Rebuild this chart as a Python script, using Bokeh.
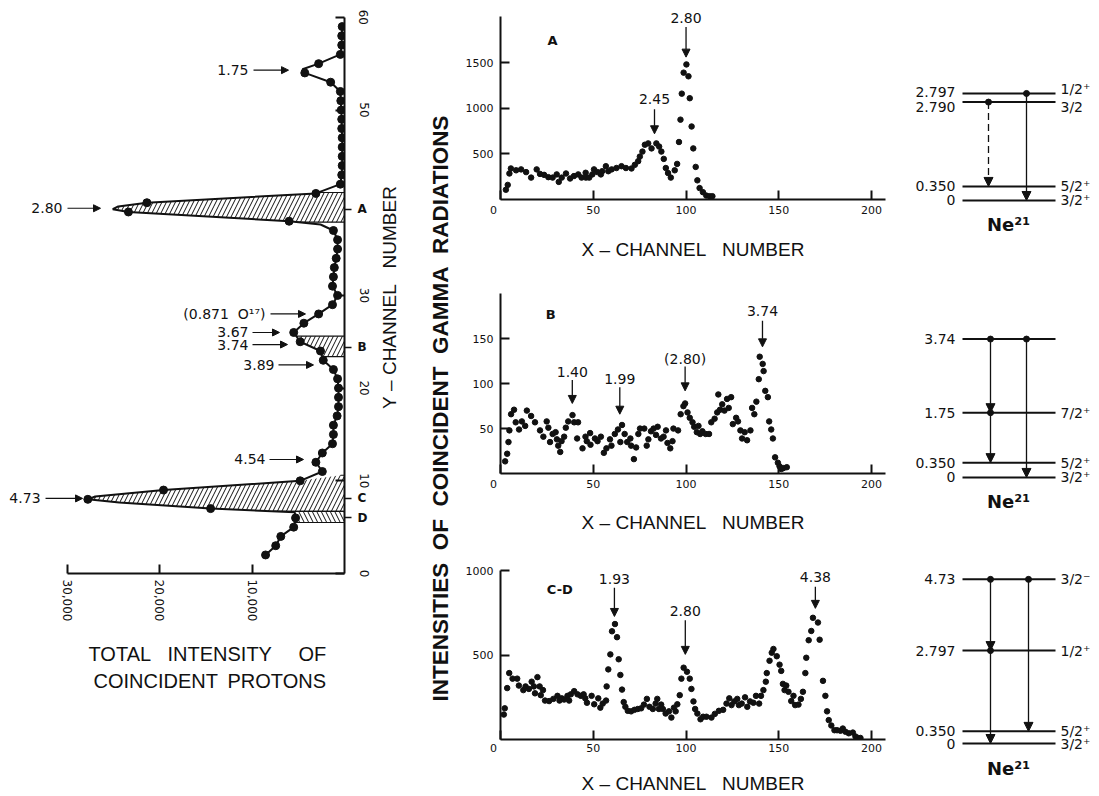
import math
from bokeh.plotting import figure
from bokeh.models import Range1d, FixedTicker, Arrow, NormalHead, NumeralTickFormatter, LinearAxis, Spacer
from bokeh.layouts import row, column
from bokeh.embed import file_html
from bokeh.resources import INLINE
from bokeh.core.properties import value

FONT = "DejaVu Sans"
TFONT = "Liberation Sans"
INK = "#111111"
SP = "\u00a0"

# ---------------- left panel: total intensity of coincident protons ----------------
prot_channel = list(range(2, 60))
prot_intensity = [8550, 7450, 6900, 5500, 5300, 14500, 27800, 19600, 4800, 2400,
                  3100, 2400, 1300, 1200, 1200, 800, 650, 650, 650, 750,
                  1200, 2300, 2600, 4800, 5500, 4400, 2800, 1300, 750, 1300,
                  1200, 1100, 900, 750, 750, 1200, 6000, 23400, 21400, 3100,
                  450, 300, 250, 250, 250, 250, 300, 300, 350, 400,
                  450, 1500, 4300, 2800, 450, 300, 300, 250]
# extra points of the hand-drawn peak curves
shape_channel = [6.6, 7.65, 8.3, 37.65, 39.3, 39.6, 54.4]
shape_intensity = [5400, 24400, 27000, 2600, 25100, 24500, 4550]

# hatched gates A, B, C, D
hatch_A_ch = [37.9, 38.0, 39.0, 39.3, 39.6, 40.0, 41.0, 41.1]
hatch_A_I = [5200, 6000, 23400, 25100, 24500, 21400, 3100, 2850]
hatch_B_ch = [23.4, 24.0, 25.0, 25.6]
hatch_B_I = [2420, 2600, 4800, 5220]
hatch_C_ch = [6.7, 7.0, 7.65, 8.0, 8.3, 9.0, 10.0, 10.6]
hatch_C_I = [7700, 14500, 24400, 27800, 27000, 19600, 4800, 430]
hatch_D_ch = [5.5, 6.0, 6.6, 6.7]
hatch_D_I = [5400, 5300, 5400, 7700]
gate_names = ["A", "B", "C", "D"]
gate_channel = [39.3, 24.4, 8.1, 6.0]
y_ticks = [0, 10, 20, 30, 50, 60]
x_ticks = [10000, 20000, 30000]

prot_peak_text = ["1.75", "2.80", "(0.871" + SP + SP + "O\u00b9\u2077)", "3.67", "3.74", "3.89", "4.54", "4.73"]
prot_peak_ch = [54.3, 39.4, 28.0, 26.0, 24.7, 22.5, 12.3, 8.1]

# ---------------- middle panels: gamma spectra ----------------
A_ch = [2.9, 3.9, 4.8, 5.6, 8.4, 11.1, 13.8, 16.5, 19.5, 21.3, 23.5, 25.8, 28.1, 30.3, 31.4,
        33.0, 35.3, 37.5, 39.6, 41.9, 43.7, 45.9, 46.0, 47.8, 49.5, 50.4, 52.2, 54.1, 54.8,
        56.8, 58.1, 59.9, 62.5, 65.2, 67.6, 70.6, 72.4, 74.2, 75.1, 76.5, 77.8, 79.6, 81.4,
        84.0, 85.5, 86.7, 88.0, 89.1, 90.3, 91.8, 93.9, 95.2, 96.2, 97.0, 97.7, 98.7, 100.2,
        101.3, 102.0, 103.0, 103.9, 105.2, 106.1, 107.3, 109.1, 110.9, 112.7, 114.2]
A_counts = [107, 160, 285, 340, 320, 330, 300, 240, 330, 280, 270, 245, 240, 275, 193,
            240, 285, 230, 257, 275, 240, 293, 240, 240, 275, 330, 300, 275, 310,
            365, 310, 330, 345, 365, 345, 340, 380, 420, 470, 525, 600, 615, 560,
            615, 580, 525, 445, 345, 290, 240, 320, 390, 630, 875, 1160, 1390, 1480,
            1350, 1110, 800, 560, 357, 210, 125, 80, 43, 36, 36]

B_ch = [2.5, 3.6, 4.3, 4.8, 5.7, 7.3, 8.2, 10.0, 11.5, 13.3,
        14.2, 16.5, 18.6, 21.3, 23.1, 24.9, 25.8, 26.7, 28.1, 29.7,
        30.4, 31.1, 32.2, 32.9, 34.3, 35.2, 36.5, 38.8, 39.7, 41.3,
        41.8, 44.2, 45.8, 46.5, 48.3, 48.5, 50.9, 52.3, 54.1, 55.7,
        57.1, 59.0, 59.8, 61.6, 63.3, 64.6, 65.5, 66.9, 68.3, 70.0,
        70.4, 71.9, 73.1, 74.3, 75.2, 77.5, 78.8, 79.7, 81.1, 82.5,
        83.8, 84.7, 86.5, 87.9, 89.2, 90.0, 91.5, 92.7, 93.2, 95.7,
        97.1, 98.6, 99.5, 100.8, 102.0, 103.5, 104.4, 105.8, 106.7, 107.6,
        108.8, 110.6, 112.4, 113.6, 115.4, 116.8, 117.4, 118.3, 119.5, 120.7,
        122.1, 123.0, 124.3, 125.2, 127.0, 128.0, 129.3, 130.2, 131.6, 132.9,
        134.7, 135.6, 136.8, 137.9, 139.2, 139.7, 141.3, 141.8, 142.7, 144.1,
        144.8, 145.9, 146.8, 148.0, 149.5, 150.4, 151.3, 152.5, 154.3]
B_counts = [13.5, 22, 35, 48, 66, 71, 57, 49, 58, 53,
            70, 64, 57, 48, 41, 58, 51, 35, 44, 46,
            38, 31, 24, 36, 41, 51, 58, 65, 57, 39,
            57, 28, 41, 36, 45, 32, 39, 36, 41, 23,
            28, 38, 31, 44, 49, 35, 54, 44, 35, 39,
            31, 16, 29, 44, 50, 50, 31, 38, 47, 50,
            43, 52, 39, 41, 48, 34, 28, 36, 50, 48,
            66, 75, 78, 68, 62, 57, 52, 46, 53, 44,
            47, 44, 44, 57, 61, 68, 88, 71, 77, 70,
            83, 73, 85, 55, 62, 58, 48, 39, 46, 37,
            48, 73, 66, 80, 105, 130, 122, 114, 92, 85,
            58, 49, 39, 18, 12, 8, 5, 6, 7]

C_ch = [1.8, 2.3, 3.6, 4.7, 6.5, 9.0, 9.9, 12.3, 13.5, 15.3,
        16.8, 18.0, 18.6, 19.9, 21.1, 21.7, 22.9, 24.0, 26.2, 28.5,
        30.7, 31.8, 33.0, 34.3, 36.1, 37.0, 37.9, 39.7, 41.5, 43.3,
        44.8, 45.7, 46.6, 49.1, 50.5, 52.7, 53.8, 55.1, 56.9, 57.2,
        58.1, 59.2, 60.1, 61.7, 62.8, 63.7, 64.6, 65.5, 66.4, 67.3,
        68.6, 70.4, 72.2, 74.0, 75.8, 77.3, 78.9, 80.3, 82.1, 83.6,
        84.5, 85.4, 86.6, 87.5, 89.0, 90.8, 92.1, 93.5, 94.4, 95.3,
        96.6, 97.5, 98.7, 100.5, 102.0, 102.9, 104.0, 104.9, 106.1, 107.8,
        109.2, 111.0, 113.7, 115.5, 117.7, 120.0, 121.8, 123.3, 124.5, 126.0,
        127.6, 128.5, 130.0, 131.8, 133.0, 134.5, 136.3, 137.7, 139.4, 140.4,
        141.7, 143.0, 143.5, 145.0, 146.2, 147.1, 148.9, 150.4, 151.3, 152.2,
        153.1, 154.0, 155.2, 156.7, 157.9, 158.8, 160.6, 161.9, 163.0, 164.3,
        164.8, 166.1, 167.5, 168.4, 171.1, 172.0, 173.8, 175.1, 176.0, 176.9,
        178.3, 180.0, 181.4, 183.2, 184.5, 185.9, 187.7, 189.9, 191.3, 192.8,
        194.0]
C_counts = [148, 185, 305, 394, 361, 361, 320, 293, 315, 300,
            343, 315, 274, 370, 315, 263, 293, 231, 228, 241,
            259, 231, 244, 237, 259, 231, 268, 287, 268, 259,
            268, 244, 218, 259, 209, 244, 189, 213, 231, 315,
            416, 505, 642, 685, 607, 476, 383, 296, 222, 194,
            170, 167, 176, 181, 185, 207, 241, 194, 181, 213,
            241, 181, 207, 181, 154, 167, 130, 189, 167, 209,
            263, 361, 426, 402, 361, 300, 226, 181, 154, 120,
            135, 135, 130, 152, 170, 176, 213, 244, 204, 226,
            241, 204, 213, 250, 194, 226, 218, 259, 213, 259,
            293, 343, 394, 467, 515, 537, 494, 444, 407, 330,
            293, 320, 283, 228, 259, 204, 207, 241, 283, 394,
            485, 589, 644, 722, 694, 592, 348, 259, 167, 115,
            83, 55, 55, 52, 65, 46, 37, 41, 18, 9,
            9]

A_peak_text = ["2.45", "2.80"]
A_peak_ch = [83, 100]
B_peak_text = ["1.40", "1.99", "(2.80)", "3.74"]
B_peak_ch = [38.7, 64.3, 99.5, 141.2]
C_peak_text = ["1.93", "2.80", "4.38"]
C_peak_ch = [61.4, 99.6, 169.7]
gamma_x_ticks = [0, 50, 100, 150, 200]

# ---------------- right: Ne21 level schemes ----------------
lvA_E = [2.797, 2.790, 0.350, 0.0]
lvA_left = ["2.797", "2.790", "0.350", "0"]
lvA_right = ["1/2\u207a", "3/2", "5/2\u207a", "3/2\u207a"]
lvA_trans = [(2.790, 0.350), (2.797, 0.0)]
lvB_E = [3.74, 1.75, 0.350, 0.0]
lvB_left = ["3.74", "1.75", "0.350", "0"]
lvB_right = ["", "7/2\u207a", "5/2\u207a", "3/2\u207a"]
lvB_trans = [(3.74, 1.75), (1.75, 0.350), (3.74, 0.0)]
lvC_E = [4.73, 2.797, 0.350, 0.0]
lvC_left = ["4.73", "2.797", "0.350", "0"]
lvC_right = ["3/2\u207b", "1/2\u207a", "5/2\u207a", "3/2\u207a"]
lvC_trans = [(4.73, 2.797), (2.797, 0.0), (4.73, 0.350)]


def clean(f):
    f.grid.visible = False
    f.outline_line_color = None
    f.background_fill_color = "white"
    f.border_fill_color = "white"


def style_axis(ax, size="11px"):
    ax.axis_line_width = 2
    ax.axis_line_color = INK
    ax.major_tick_line_color = INK
    ax.major_tick_line_width = 2
    ax.major_tick_in = 9
    ax.major_tick_out = 0
    ax.minor_tick_line_color = None
    ax.major_label_text_font = FONT
    ax.major_label_text_font_size = size
    ax.major_label_text_color = INK
    ax.axis_label_text_font = TFONT
    ax.axis_label_text_font_style = "normal"
    ax.axis_label_text_color = INK


def head(size=8):
    return NormalHead(size=size, fill_color=INK, line_color=INK, line_width=1)


def text_fig(w, h, right=0):
    f = figure(width=w, height=h, x_range=Range1d(0, w - right), y_range=Range1d(0, h),
               x_axis_location=None, y_axis_location=None, toolbar_location=None,
               output_backend="svg", min_border=0, min_border_right=right)
    clean(f)
    return f


# ================= left figure =================
pl = figure(width=366, height=625, x_range=Range1d(36390, 0), y_range=Range1d(0, 60.95),
            y_axis_location="right", toolbar_location=None, output_backend="svg",
            min_border_left=0, min_border_right=30, min_border_top=0, min_border_bottom=60)
clean(pl)
xa = pl.xaxis[0]
style_axis(xa, "12px")
xa.ticker = FixedTicker(ticks=x_ticks)
xa.formatter = NumeralTickFormatter(format="0,0")
xa.bounds = (0, 30000)
xa.major_label_orientation = "vertical"
xa.major_label_standoff = 6
ya = pl.yaxis[0]
style_axis(ya, "12px")
ya.ticker = FixedTicker(ticks=y_ticks, minor_ticks=gate_channel)
ya.minor_tick_line_color = INK
ya.minor_tick_line_width = 1.5
ya.minor_tick_in = 0
ya.minor_tick_out = 7
ya.bounds = (0, 60)
ya.major_label_orientation = "vertical"
ya.major_label_standoff = 8
# gate letters as a second (label-only) axis pulled back next to the first one
ga = LinearAxis(ticker=FixedTicker(ticks=gate_channel),
                major_label_overrides={c: g for c, g in zip(gate_channel, gate_names)})
ga.axis_line_color = None
ga.major_tick_line_color = None
ga.minor_tick_line_color = None
ga.major_tick_in = 0
ga.major_tick_out = 0
ga.major_label_standoff = -14
ga.major_label_text_font = FONT
ga.major_label_text_font_size = "12px"
ga.major_label_text_font_style = "bold"
ga.major_label_text_color = INK
pl.add_layout(ga, "right")

for hc, hi, pat in [(hatch_A_ch, hatch_A_I, "/"), (hatch_B_ch, hatch_B_I, "/"),
                    (hatch_C_ch, hatch_C_I, "/"), (hatch_D_ch, hatch_D_I, "\\")]:
    pl.harea(y=hc, x1=hi, x2=[0] * len(hc), fill_color=None, fill_alpha=0,
             hatch_pattern=pat, hatch_color=INK, hatch_scale=9, hatch_weight=1)
    pl.segment(x0=[hi[0], hi[-1]], y0=[hc[0], hc[-1]], x1=[0, 0], y1=[hc[0], hc[-1]],
               line_color=INK, line_width=1.2)

pts = sorted(zip(prot_channel + shape_channel, prot_intensity + shape_intensity))
pl.line([p[1] for p in pts], [p[0] for p in pts], line_color=INK, line_width=2)
pl.scatter(prot_intensity, prot_channel, size=8, color=INK)

txt_I = [10400, 30540, 8560, 10400, 10400, 7580, 8560, 32920]
arr_I0 = [9855, 30000, 8014, 9964, 9964, 7148, 8122, 32380]
arr_I1 = [6065, 26425, 4224, 7040, 6173, 3357, 4440, 28370]
pl.text(x=txt_I, y=prot_peak_ch, text=prot_peak_text, text_font=value(FONT),
        text_font_size="14px", text_align="right", text_baseline="middle", text_color=INK)
for i0, i1, c in zip(arr_I0, arr_I1, prot_peak_ch):
    pl.add_layout(Arrow(x_start=i0, y_start=c, x_end=i1, y_end=c, line_color=INK,
                        line_width=1.2, end=head(7)))

# caption below the left panel (word by word, left aligned)
cap_words = ["TOTAL", "INTENSITY", "OF", "COINCIDENT", "PROTONS"]
cap_x = [80, 159, 290, 85, 219]
cap_y = [143, 143, 143, 116, 116]
pt = text_fig(366, 163, right=30)
pt.text(x=cap_x, y=cap_y, text=cap_words, text_font=value(TFONT), text_font_size="20px",
        text_align="left", text_baseline="middle", text_color=INK)

# strip with the two vertical titles
ps = text_fig(86, 788)
ps.text(x=[15], y=[499], text=["Y" + SP + "\u2013" + SP + "CHANNEL" + SP * 3 + "NUMBER"],
        angle=math.pi / 2, text_font=value(TFONT), text_font_size="19px",
        text_align="center", text_baseline="middle", text_color=INK)
ps.text(x=[66], y=[388],
        text=[(SP * 2).join(["INTENSITIES", "OF", "COINCIDENT", "GAMMA", "RADIATIONS"])],
        angle=math.pi / 2, text_font=value(TFONT), text_font_size="22.5px",
        text_font_style="bold", text_align="center", text_baseline="middle", text_color=INK)


# ================= middle figures =================
def gamma_panel(height, bt, bb, xmax, ymax, ybound, yticks, ch, counts, tag, tag_xy,
                ptxt, pch, ptxt_y, ay0, ay1, lab_standoff, tick_standoff):
    p = figure(width=435, height=height, x_range=Range1d(0, xmax), y_range=Range1d(0, ymax),
               toolbar_location=None, output_backend="svg",
               min_border_left=40, min_border_right=10, min_border_top=bt, min_border_bottom=bb)
    clean(p)
    style_axis(p.xaxis[0])
    style_axis(p.yaxis[0])
    p.xaxis[0].ticker = FixedTicker(ticks=gamma_x_ticks)
    p.xaxis[0].major_label_overrides = {0: "0" + "\u2007\u2007"}
    p.xaxis[0].bounds = (0, 208)
    p.xaxis[0].major_label_standoff = tick_standoff
    p.yaxis[0].ticker = FixedTicker(ticks=yticks)
    p.yaxis[0].bounds = (0, ybound)
    p.yaxis[0].major_label_standoff = 7
    p.xaxis[0].axis_label = "X" + SP + "\u2013" + SP + "CHANNEL" + SP * 3 + "NUMBER"
    p.xaxis[0].axis_label_text_font_size = "19px"
    p.xaxis[0].axis_label_standoff = lab_standoff
    p.scatter(ch, counts, size=5.5, color=INK)
    p.text(x=[tag_xy[0]], y=[tag_xy[1]], text=[tag], text_font=value(FONT),
           text_font_size="13px", text_font_style="bold", text_align="center",
           text_baseline="middle", text_color=INK)
    p.text(x=pch, y=ptxt_y, text=ptxt, text_font=value(FONT), text_font_size="14px",
           text_align="center", text_baseline="middle", text_color=INK)
    for x, y0, y1 in zip(pch, ay0, ay1):
        p.add_layout(Arrow(x_start=x, y_start=y0, x_end=x, y_end=y1, line_color=INK,
                           line_width=1.3, end=head(8)))
    return p


gA = gamma_panel(254, 0, 60, 207.5, 2093, 2000, [500, 1000, 1500], A_ch, A_counts,
                 "A", (28, 1740), A_peak_text, A_peak_ch, [1096, 1990], [990, 1890], [720, 1560],
                 19, 4)
gB = gamma_panel(273, 8, 57, 207.5, 226, 200, [50, 100, 150], B_ch, B_counts,
                 "B", (27, 177), B_peak_text, B_peak_ch, [113, 105, 128, 181],
                 [104, 96, 119, 170], [78, 66, 92, 141], 18, 4)
gC = gamma_panel(261, 10, 45, 207.5, 1151, 1000, [500, 1000], C_ch, C_counts,
                 "C-D", (32, 890), C_peak_text, C_peak_ch, [954, 760, 963],
                 [900, 707, 907], [730, 505, 778], 15, 2)


# ================= level schemes =================
def level_panel(height, e_bot, e_top, energies, shifts, lshift, rshift, ltxt, rtxt, trans,
                xs, dashes, ne_y):
    f = figure(width=196, height=height, x_range=Range1d(0, 196), y_range=Range1d(e_bot, e_top),
               x_axis_location=None, y_axis_location=None, toolbar_location=None,
               output_backend="svg", min_border=0)
    clean(f)
    n = len(energies)
    ys = [e + s for e, s in zip(energies, shifts)]
    f.segment(x0=[67] * n, y0=ys, x1=[160] * n, y1=ys, line_color=INK, line_width=2)
    f.text(x=[60] * n, y=[y + d for y, d in zip(ys, lshift)], text=ltxt, text_font=value(FONT),
           text_font_size="14px", text_align="right", text_baseline="middle", text_color=INK)
    f.text(x=[165] * n, y=[y + d for y, d in zip(ys, rshift)], text=rtxt, text_font=value(FONT),
           text_font_size="14px", text_align="left", text_baseline="middle", text_color=INK)
    ypos = dict(zip(energies, ys))
    for (e0, e1), x, d in zip(trans, xs, dashes):
        f.add_layout(Arrow(x_start=x, y_start=ypos[e0], x_end=x, y_end=ypos[e1],
                           line_color=INK, line_width=1.3, line_dash=d, end=head(9)))
        f.scatter([x], [ypos[e0]], size=6, color=INK)
    f.text(x=[113], y=[ne_y], text=["Ne\u00b2\u00b9"], text_font=value(FONT),
           text_font_size="18px", text_font_style="bold", text_align="center",
           text_baseline="middle", text_color=INK)
    return f


lA = level_panel(254, -1.632, 5.053, lvA_E, [0.02, -0.2, 0.02, 0.0],
                 [0.05, -0.13, 0, 0], [0.13, -0.13, 0, 0], lvA_left, lvA_right,
                 lvA_trans, [93, 131], ["7 4", "solid"], -0.62)
lB = level_panel(273, -1.57, 5.81, lvB_E, [0.0, 0.0, 0.05, 0.0],
                 [0, 0, 0, 0], [0, 0, 0, 0], lvB_left, lvB_right,
                 lvB_trans, [95, 95, 131], ["solid", "solid", "solid"], -0.64)
lC = level_panel(261, -1.527, 5.994, lvC_E, [0.0, -0.12, 0.0, 0.0],
                 [0, 0, 0, 0], [0, 0, 0, 0], lvC_left, lvC_right,
                 lvC_trans, [95, 95, 133], ["solid", "solid", "solid"], -0.72)

body = row(column(pl, pt), ps, column(gA, gB, gC), column(lA, lB, lC))
layout = column(Spacer(width=1091, height=8), row(Spacer(width=8, height=788), body))
open("out.html", "w").write(file_html(layout, INLINE))
